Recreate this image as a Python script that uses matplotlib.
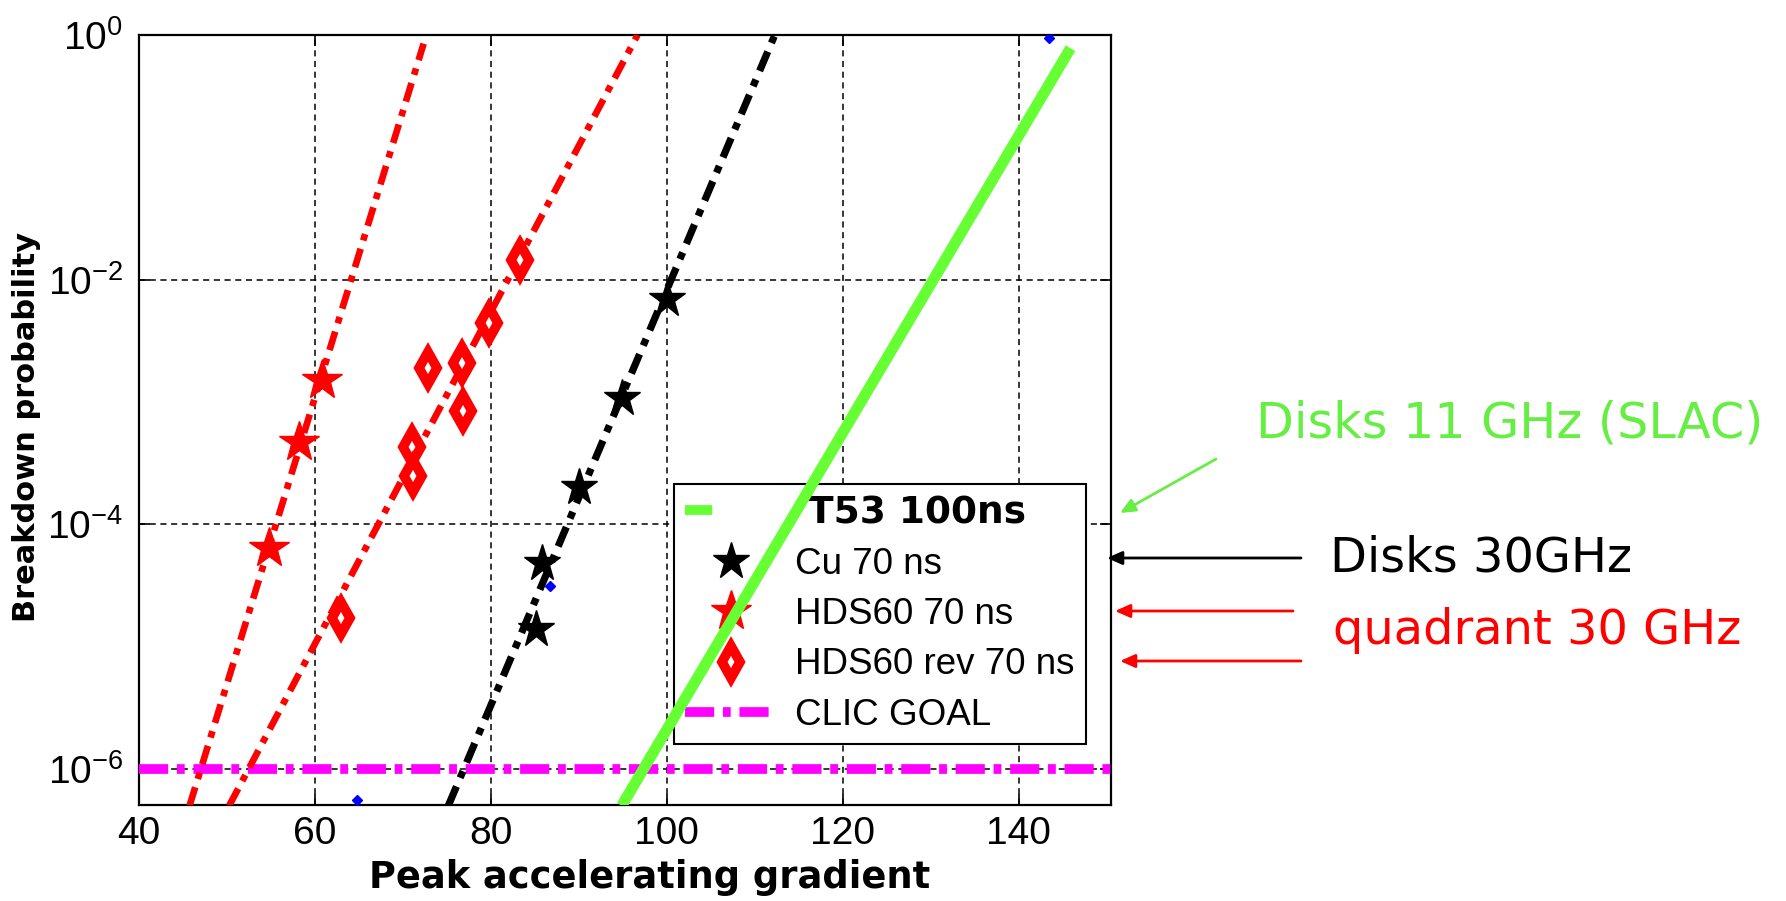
import matplotlib
matplotlib.use("Agg")
import matplotlib.pyplot as plt
from matplotlib.lines import Line2D

# ---------------- data ----------------
cu_x = [100.0, 94.9, 90.0, 85.8, 85.2]
cu_y = [7.0e-3, 1.07e-3, 2.0e-4, 4.8e-5, 1.4e-5]

hds_x = [60.9, 58.2, 54.8]
hds_y = [1.5e-3, 4.7e-4, 6.4e-5]

rev_x = [83.3, 79.8, 76.8, 72.9, 76.9, 71.1, 71.2, 63.0]
rev_y = [1.45e-2, 4.4e-3, 2.1e-3, 1.9e-3, 8.5e-4, 4.3e-4, 2.5e-4, 1.7e-5]

hds_fit_x = [45.8, 72.4]
hds_fit_y = [5.0e-7, 0.85]
rev_fit_x = [50.3, 96.7]
rev_fit_y = [5.0e-7, 1.0]
cu_fit_x = [75.2, 112.3]
cu_fit_y = [5.0e-7, 1.0]
t53_x = [94.9, 145.9]
t53_y = [5.0e-7, 0.78]

clic_goal = 1.0e-6

blue_x = [64.8, 86.7, 143.5]
blue_y = [5.6e-7, 3.1e-5, 0.95]

x_ticks = [40, 60, 80, 100, 120, 140]
y_ticks = [1e-6, 1e-4, 1e-2, 1e0]

legend_labels = [" T53 100ns", "Cu 70 ns", "HDS60 70 ns", "HDS60 rev 70 ns", "CLIC GOAL"]

# ---------------- figure ----------------
plt.rcParams['font.family'] = ['Liberation Sans', 'DejaVu Sans']
W, H = 1786, 901
fig = plt.figure(figsize=(W / 100, H / 100), dpi=100)
AW = 1111 - 138.5
AH = 805 - 35
ax = fig.add_axes([138.5 / W, 1 - 805 / H, AW / W, AH / H])

ax.set_yscale('log')
ax.set_xlim(40, 150.5)
ax.set_ylim(5.07e-7, 1.0)
ax.set_xticks(x_ticks)
ax.set_yticks(y_ticks)
ax.minorticks_off()
ax.tick_params(axis='both', which='major', direction='in', length=8, width=1.2,
               top=True, right=True, labelsize=28)
ax.tick_params(axis='x', pad=8)
ax.tick_params(axis='y', pad=11)
for s in ax.spines.values():
    s.set_linewidth(1.6)
ax.grid(True, which='major', color='black', linestyle=(0, (4, 3)), linewidth=1.1)
ax.set_axisbelow(True)

GREEN = '#66ff33'
MAG = '#ff00ff'
DD = (2.9, 1.3, 1.0, 1.3)

# CLIC goal
ax.axhline(clic_goal, color=MAG, linewidth=7, dashes=(3.0, 0.9, 0.8, 0.9), zorder=3)

# fit lines
ax.plot(hds_fit_x, hds_fit_y, color='red', linewidth=4.8, dashes=DD, zorder=3)
ax.plot(rev_fit_x, rev_fit_y, color='red', linewidth=4.8, dashes=DD, zorder=3)
ax.plot(cu_fit_x, cu_fit_y, color='black', linewidth=5.2, dashes=DD, zorder=3)

# data markers
ax.plot(blue_x, blue_y, linestyle='none', marker='D', markersize=5, color='blue', zorder=3)
ax.plot(cu_x, cu_y, linestyle='none', marker='*', markersize=28, color='black', zorder=4)
ax.plot(hds_x, hds_y, linestyle='none', marker='*', markersize=30, color='red', zorder=4)
ax.plot(rev_x, rev_y, linestyle='none', marker='d', markersize=16, markerfacecolor='white',
        markeredgecolor='red', markeredgewidth=7, zorder=4)

# T53 (drawn above legend)
ax.plot(t53_x, t53_y, color=GREEN, linewidth=8, solid_capstyle='butt', zorder=6)

# legend
handles = [
    Line2D([], [], color=GREEN, linewidth=7, dashes=(2.8, 30)),
    Line2D([], [], linestyle='none', marker='*', markersize=28, color='black'),
    Line2D([], [], linestyle='none', marker='*', markersize=30, color='red'),
    Line2D([], [], linestyle='none', marker='d', markersize=16, markerfacecolor='white',
           markeredgecolor='red', markeredgewidth=7),
    Line2D([], [], color=MAG, linewidth=7, dashes=(3.0, 0.9, 0.8, 0.9)),
]
leg = ax.legend(handles, legend_labels, loc='upper left',
                bbox_to_anchor=((674 - 138.5) / AW, (805 - 484) / AH,
                                (1086 - 674) / AW, 0.0),
                mode='expand', fontsize=26.5, frameon=True, fancybox=False, framealpha=1,
                edgecolor='black', handlelength=2.5, handletextpad=0.5,
                labelspacing=0.42, borderpad=0.3, borderaxespad=0)
leg.get_frame().set_linewidth(1.5)
leg.set_zorder(5)
t0 = leg.get_texts()[0]
t0.set_fontweight('bold')
t0.set_family('DejaVu Sans')
t0.set_fontsize(27)

ax.set_xlabel('Peak accelerating gradient', fontsize=26.5, fontweight='bold',
              family='DejaVu Sans')
ax.xaxis.set_label_coords((570 * 1.139 - 138.5) / AW, -(878 - 805) / AH)
ax.set_ylabel('Breakdown probability', fontsize=22, fontweight='bold',
              family='DejaVu Sans')
ax.yaxis.set_label_coords(-(138.5 - 27) / AW, 1 - (375 * 1.139 - 35) / AH)
ax.xaxis.label.set_va('center')
ax.yaxis.label.set_va('center')

# right-side annotations
fig.text(1256 / W, 1 - 424 / H, 'Disks 11 GHz (SLAC)', color='#66ee44', fontsize=35.5,
         family='DejaVu Sans', va='center', ha='left')
fig.text(1330 / W, 1 - 558 / H, 'Disks 30GHz', color='black', fontsize=34.5,
         family='DejaVu Sans', va='center', ha='left')
fig.text(1333 / W, 1 - 630 / H, 'quadrant 30 GHz', color='red', fontsize=34.5,
         family='DejaVu Sans', va='center', ha='left')

arrows = [
    ((1216, 459), (1120, 513), '#66ee44'),
    ((1301, 558), (1107, 558), 'black'),
    ((1293, 611), (1115, 611), 'red'),
    ((1301, 661), (1120, 661), 'red'),
]
for (x0, y0), (x1, y1), c in arrows:
    fig.add_artist(matplotlib.patches.FancyArrowPatch(
        (x0 / W, 1 - y0 / H), (x1 / W, 1 - y1 / H), transform=fig.transFigure,
        arrowstyle='-|>,head_length=9,head_width=4', color=c, linewidth=2,
        mutation_scale=1, shrinkA=0, shrinkB=0))

fig.savefig('out.png', dpi=100)
